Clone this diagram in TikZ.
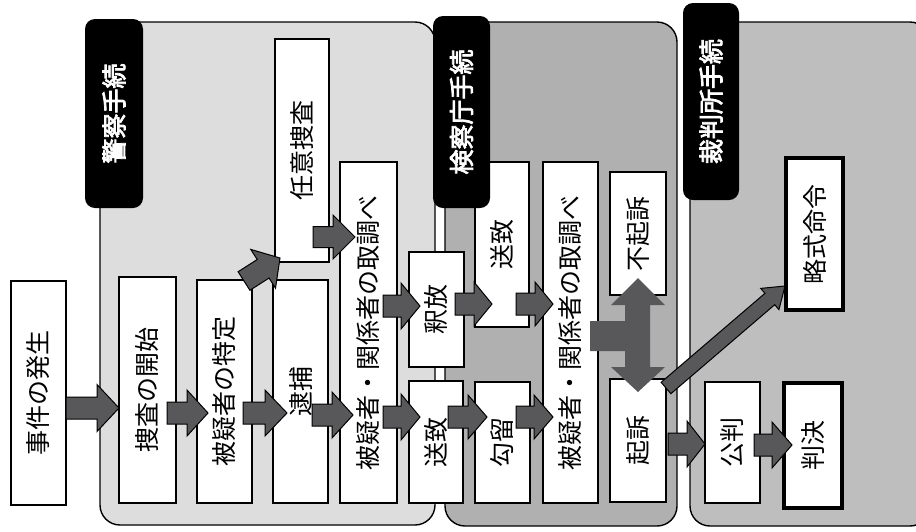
\documentclass[tikz,border=0pt]{standalone}
\usepackage{fontspec}
\newfontfamily\jp{Noto Sans CJK JP}
\newfontfamily\jpb[FakeBold=3]{Noto Sans CJK JP}
\usetikzlibrary{calc}
\definecolor{policefill}{HTML}{DDDDDD}
\definecolor{prosfill}{HTML}{B0B0B0}
\definecolor{courtfill}{HTML}{BEBEBE}
\definecolor{arrowgray}{HTML}{58585A}
% block arrow: [opts]{start}{tip}{shaft half}{head half}{head length}
\newcommand\barrow[6][]{%
  \path ($(#3)!#6!(#2)$) coordinate (hb);
  \draw[arrowsty,#1] ($(#2)!#4!90:(#3)$) -- ($(hb)!#4!90:(#3)$) -- ($(hb)!#5!90:(#3)$) -- (#3)
    -- ($(hb)!#5!-90:(#3)$) -- ($(hb)!#4!-90:(#3)$) -- ($(#2)!#4!-90:(#3)$) -- cycle;}
\begin{document}
\begin{tikzpicture}[x=1pt,y=-1pt,
  box/.style={draw, line width=1.8pt, fill=white, rotate=90, inner sep=0pt,
    font=\jp\fontsize{25}{25}\selectfont},
  thickbox/.style={box, line width=3.8pt},
  lab/.style={fill=black, rounded corners=10pt, rotate=90, inner sep=0pt, text=white,
    font=\jpb\fontsize{25}{25}\selectfont},
  panel/.style={draw=black, line width=1.4pt, rounded corners=20pt},
  arrowsty/.style={fill=arrowgray, draw=black, line width=1pt, line join=miter}]
\useasboundingbox (0,0) rectangle (916,531);
\fill[white] (0,0) rectangle (916,531);
% panels
\draw[panel, fill=policefill] (100,22) rectangle (435,525);
\draw[panel, fill=prosfill] (445,22) rectangle (677,526);
\draw[panel, fill=courtfill] (690,22) rectangle (930,526);
% boxes
\node[box, minimum width=224pt, minimum height=55pt] (jiken) at (38.5,393) {事件の発生};
\node[box, minimum width=226pt, minimum height=57pt] (sousa) at (147.5,390) {捜査の開始};
\node[box, minimum width=223pt, minimum height=55pt] (tokutei) at (224.5,391.5) {被疑者の特定};
\node[box, minimum width=223pt, minimum height=55pt] (taiho) at (300.5,391.5) {逮捕};
\node[box, minimum width=223pt, minimum height=54pt] (nini) at (302,150.5) {任意捜査};
\node[box, minimum width=341pt, minimum height=57pt] (tori1) at (368.5,332.5) {被疑者・関係者の取調べ};
\node[box, minimum width=115pt, minimum height=55pt] (shakuho) at (436.5,309.5) {釈放};
\node[box, minimum width=122pt, minimum height=54pt] (souchiA) at (436,442) {送致};
\node[box, minimum width=165pt, minimum height=54pt] (souchiB) at (502,244.5) {送致};
\node[box, minimum width=121pt, minimum height=55pt] (koryu) at (502.5,442.5) {勾留};
\node[box, minimum width=341pt, minimum height=55pt] (tori2) at (570.5,332.5) {被疑者・関係者の取調べ};
\node[box, minimum width=123pt, minimum height=56pt] (fukiso) at (638,233.5) {不起訴};
\node[box, minimum width=123pt, minimum height=56pt] (kiso) at (638,440.5) {起訴};
\node[thickbox, minimum width=152pt, minimum height=57pt] (ryaku) at (814.5,234) {略式命令};
\node[box, minimum width=121pt, minimum height=55pt] (kouhan) at (732.5,442.5) {公判};
\node[thickbox, minimum width=125pt, minimum height=58pt] (hanketsu) at (813,445.5) {判決};
% labels
\node[lab, minimum width=189pt, minimum height=58pt] (labP) at (114,113.5) {警察手続};
\node[lab, minimum width=192pt, minimum height=57pt] (labK) at (461.5,112) {検察庁手続};
\node[lab, minimum width=197pt, minimum height=56pt] (labC) at (711,101.5) {裁判所手続};
% arrow end points
\coordinate (a1s) at (66,408);   \coordinate (a1e) at (119,408);
\coordinate (a2s) at (167,413);  \coordinate (a2e) at (208,413);
\coordinate (a3s) at (243,413);  \coordinate (a3e) at (287,413);
\coordinate (a4s) at (312,415);  \coordinate (a4e) at (353,415);
\coordinate (a5s) at (383,306);  \coordinate (a5e) at (420,306);
\coordinate (a6s) at (383,417);  \coordinate (a6e) at (420,417);
\coordinate (a7s) at (455,304);  \coordinate (a7e) at (492,304);
\coordinate (a8s) at (516,304);  \coordinate (a8e) at (553,304);
\coordinate (a9s) at (448,417);  \coordinate (a9e) at (487,417);
\coordinate (a10s) at (516,417); \coordinate (a10e) at (553,417);
\coordinate (a11s) at (313,237); \coordinate (a11e) at (355,237);
\coordinate (a12s) at (668,444); \coordinate (a12e) at (705,444);
\coordinate (a13s) at (754,445); \coordinate (a13e) at (792,445);
\coordinate (a14s) at (244,281); \coordinate (a14e) at (280,258);
\coordinate (a15s) at (666,388); \coordinate (a15e) at (785,286);
% arrows
\barrow{a1s}{a1e}{11pt}{23.5pt}{22pt}
\barrow{a2s}{a2e}{11pt}{23pt}{21pt}
\barrow{a3s}{a3e}{11pt}{23pt}{22pt}
\barrow{a4s}{a4e}{11pt}{23pt}{21pt}
\barrow{a5s}{a5e}{11pt}{23pt}{19pt}
\barrow{a6s}{a6e}{11pt}{23pt}{19pt}
\barrow{a7s}{a7e}{11pt}{22pt}{18pt}
\barrow{a8s}{a8e}{11pt}{22pt}{18pt}
\barrow{a9s}{a9e}{11pt}{22pt}{19pt}
\barrow{a10s}{a10e}{11pt}{22pt}{19pt}
\barrow{a11s}{a11e}{10.5pt}{22pt}{22pt}
\barrow{a12s}{a12e}{11pt}{23pt}{18pt}
\barrow{a13s}{a13e}{11pt}{23pt}{20pt}
\barrow{a14s}{a14e}{11pt}{23pt}{20pt}
\barrow{a15s}{a15e}{7.5pt}{14pt}{20pt}
% double arrow between 不起訴 and 起訴 (no outline)
\coordinate (dtop) at (638,278);
\fill[arrowgray] (dtop) -- ++(27,27) -- ++(-15,0) -- ++(0,62) -- ++(15,0) -- ++(-27,25)
  -- ++(-27,-25) -- ++(14,0) -- ++(0,-16) -- ++(-35,0) -- ++(0,-30) -- ++(35,0)
  -- ++(0,-16) -- ++(-14,0) -- cycle;
\end{tikzpicture}
\end{document}
